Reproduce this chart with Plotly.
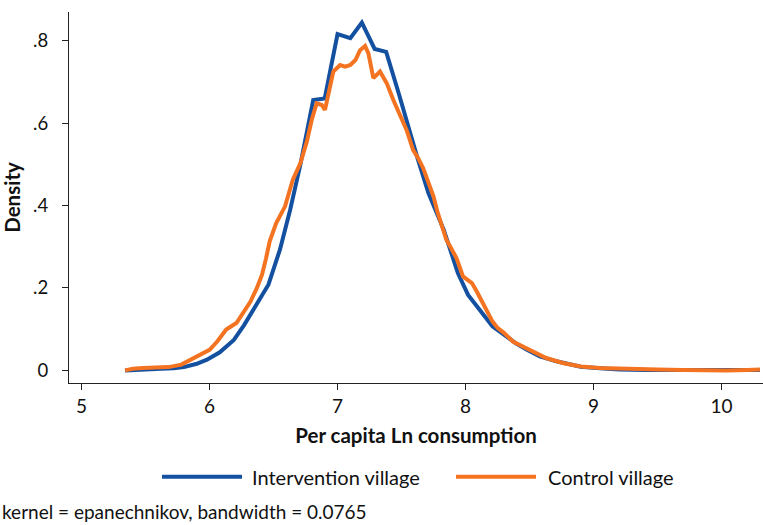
import plotly.graph_objects as go

# Kernel density estimates of per capita log consumption
interv_x = [5.34, 5.43, 5.53, 5.62, 5.72, 5.80, 5.90, 5.98, 6.08, 6.19, 6.27, 6.34,
            6.46, 6.55, 6.63, 6.71, 6.81, 6.90, 7.00, 7.10, 7.19, 7.29, 7.38, 7.48,
            7.57, 7.62, 7.71, 7.83, 7.94, 8.02, 8.11, 8.21, 8.30, 8.39, 8.48, 8.58,
            8.71, 8.90, 9.05, 9.20, 9.40, 9.60, 9.80, 10.00, 10.30]
interv_y = [0.000, 0.002, 0.003, 0.004, 0.005, 0.008, 0.016, 0.026, 0.044, 0.074, 0.110, 0.147,
            0.208, 0.293, 0.390, 0.500, 0.656, 0.660, 0.816, 0.806, 0.844, 0.780, 0.773, 0.670,
            0.570, 0.520, 0.430, 0.341, 0.236, 0.183, 0.147, 0.107, 0.087, 0.066, 0.050, 0.034,
            0.022, 0.009, 0.005, 0.002, 0.001, 0.001, 0.001, 0.001, 0.001]

control_x = [5.34, 5.40, 5.48, 5.58, 5.68, 5.78, 5.84, 5.90, 5.96, 6.00, 6.06, 6.13,
             6.21, 6.26, 6.32, 6.37, 6.41, 6.44, 6.47, 6.52, 6.59, 6.65, 6.71, 6.76,
             6.80, 6.837, 6.877, 6.902, 6.941, 6.967, 7.02, 7.06, 7.10, 7.14, 7.176, 7.215,
             7.241, 7.28, 7.332, 7.384, 7.436, 7.49, 7.54, 7.59, 7.63, 7.67, 7.71, 7.75,
             7.78, 7.81, 7.85, 7.89, 7.93, 7.98, 8.05, 8.09, 8.13, 8.17, 8.21, 8.25,
             8.30, 8.37, 8.45, 8.53, 8.63, 8.76, 8.90, 9.05, 9.26, 9.50, 9.70, 9.88,
             10.04, 10.20, 10.30]
control_y = [0.000, 0.004, 0.006, 0.007, 0.008, 0.014, 0.024, 0.034, 0.043, 0.050, 0.070, 0.099,
             0.115, 0.140, 0.167, 0.200, 0.232, 0.270, 0.313, 0.357, 0.398, 0.462, 0.503, 0.555,
             0.610, 0.648, 0.644, 0.632, 0.685, 0.725, 0.741, 0.737, 0.741, 0.753, 0.777, 0.787,
             0.769, 0.709, 0.725, 0.697, 0.656, 0.616, 0.583, 0.535, 0.515, 0.490, 0.454, 0.422,
             0.385, 0.353, 0.317, 0.295, 0.272, 0.228, 0.212, 0.190, 0.167, 0.140, 0.119, 0.103,
             0.091, 0.070, 0.058, 0.046, 0.030, 0.018, 0.0097, 0.006, 0.0034, 0.002, 0.001, 0.000,
             0.000, 0.001, 0.002]

x_ticks = [5, 6, 7, 8, 9, 10]
y_ticks = [0, 0.2, 0.4, 0.6, 0.8]
y_tick_labels = ["0", ".2", ".4", ".6", ".8"]

series_names = ["Intervention village", "Control village"]
blue = "#1450a0"
orange = "#f47321"
FONT = "Lato"
INK = "#111"

fig = go.Figure()
fig.add_trace(go.Scatter(x=interv_x, y=interv_y, mode="lines", name=series_names[0],
                         line=dict(color=blue, width=4), showlegend=False))
fig.add_trace(go.Scatter(x=control_x, y=control_y, mode="lines", name=series_names[1],
                         line=dict(color=orange, width=4), showlegend=False))

# Legend row below the plot: line sample + label per series
legend_y = -0.253
legend_items = [(0.134, 0.2493, 0.2608, blue, series_names[0]),
                (0.5576, 0.6729, 0.6873, orange, series_names[1])]
for x0, x1, xt, col, label in legend_items:
    fig.add_shape(type="line", xref="paper", yref="paper", x0=x0, x1=x1,
                  y0=legend_y, y1=legend_y, line=dict(color=col, width=4))
    fig.add_annotation(xref="paper", yref="paper", x=xt, y=legend_y, text=label,
                       showarrow=False, xanchor="left", yanchor="middle",
                       font=dict(family=FONT, size=20, color=INK))

fig.add_annotation(xref="paper", yref="paper", x=-0.0994, y=-0.3477,
                   text="kernel = epanechnikov, bandwidth = 0.0765",
                   showarrow=False, xanchor="left", yanchor="middle",
                   font=dict(family=FONT, size=19, color=INK))

fig.update_layout(
    width=763, height=525,
    margin=dict(l=69, r=0, t=12, b=142),
    paper_bgcolor="white", plot_bgcolor="white",
    font=dict(family=FONT, size=18, color=INK),
    xaxis=dict(range=[4.902, 10.324], tickvals=x_ticks, showgrid=False, zeroline=False,
               showline=True, linecolor="#222", linewidth=1.2, ticks="outside",
               ticklen=6, tickcolor="#222", tickfont=dict(size=19),
               title=dict(text="<b>Per capita Ln consumption</b>", font=dict(size=20.5), standoff=12)),
    yaxis=dict(range=[-0.0306, 0.8696], tickvals=y_ticks, ticktext=y_tick_labels,
               showgrid=False, zeroline=False, showline=True, linecolor="#222", linewidth=1.2,
               ticks="outside", ticklen=6, tickcolor="#222", tickfont=dict(size=18.5),
               ticklabelstandoff=10,
               title=dict(text="<b>Density</b>", font=dict(size=20.5), standoff=12)),
)

fig.write_html("out.html")
